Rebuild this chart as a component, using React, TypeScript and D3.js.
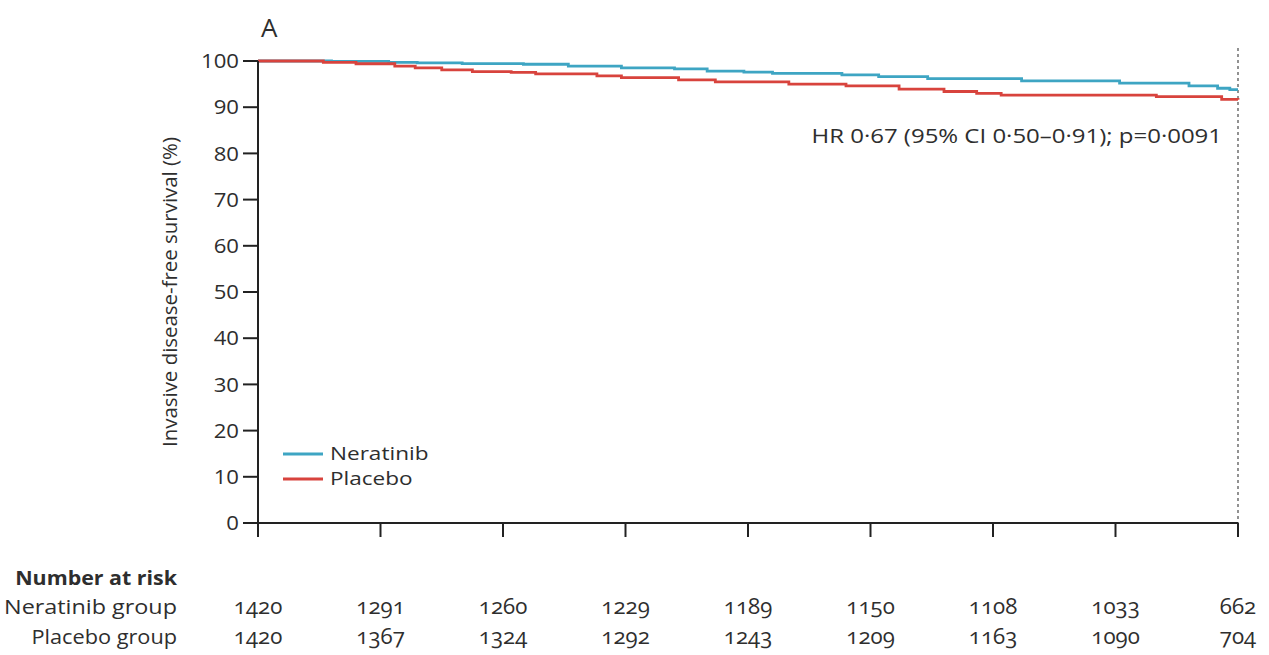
import React from "react";
import * as d3 from "d3";

// Kaplan-Meier step points: [month, survival %]
const neratinib: [number, number][] = [
  [0, 100], [1.8, 99.9], [3.2, 99.7], [3.9, 99.6], [5.0, 99.45], [6.5, 99.3],
  [7.6, 98.9], [8.9, 98.5], [10.2, 98.3], [11.0, 97.8], [11.9, 97.6], [12.6, 97.3],
  [14.3, 97.0], [15.2, 96.6], [16.4, 96.2], [18.7, 95.7], [21.1, 95.2],
  [22.8, 94.6], [23.5, 94.1], [23.8, 93.8], [24, 93.8],
];
const placebo: [number, number][] = [
  [0, 100], [1.6, 99.7], [2.4, 99.4], [3.35, 98.9], [3.85, 98.5], [4.5, 98.1],
  [5.25, 97.7], [6.2, 97.55], [6.8, 97.2], [8.3, 96.8], [8.9, 96.4], [10.3, 95.9],
  [11.2, 95.5], [13.0, 95.0], [14.4, 94.6], [15.7, 93.9], [16.8, 93.4],
  [17.6, 93.0], [18.2, 92.6], [22.0, 92.3], [23.6, 91.7], [24, 91.6],
];

const riskTimes = [0, 3, 6, 9, 12, 15, 18, 21, 24];
const riskNeratinib = [1420, 1291, 1260, 1229, 1189, 1150, 1108, 1033, 662];
const riskPlacebo = [1420, 1367, 1324, 1292, 1243, 1209, 1163, 1090, 704];
const riskRows = ["Neratinib group", "Placebo group"];
const yTicks = [0, 10, 20, 30, 40, 50, 60, 70, 80, 90, 100];

const seriesNames = ["Neratinib", "Placebo"];
const colors = ["#3ea5c3", "#d8433d"];
const hrText = "HR 0·67 (95% CI 0·50–0·91); p=0·0091";

const size = { width: 1269, height: 655 };
const plot = { left: 258, right: 1238, top: 61, bottom: 523 };

const font = "'Open Sans', sans-serif";
const ink = "#2e2e2e";

// the source figure is a little stretched sideways, so text is widened to match
function Txt(props: {
  x: number;
  y: number;
  size: number;
  anchor?: "start" | "middle" | "end";
  sx?: number;
  bold?: boolean;
  oldstyle?: boolean;
  children: React.ReactNode;
}) {
  const { x, y, size, anchor = "start", sx = 1.1, bold, oldstyle, children } = props;
  return (
    <text
      transform={`translate(${x},${y}) scale(${sx},1)`}
      dy="0.35em"
      textAnchor={anchor}
      fontSize={size}
      fontWeight={bold ? "bold" : "normal"}
      style={{
        fontFamily: font,
        fill: ink,
        fontVariantNumeric: oldstyle ? "oldstyle-nums" : "lining-nums",
      }}
    >
      {children}
    </text>
  );
}

export default function App() {
  const x = d3.scaleLinear().domain([0, 24]).range([plot.left, plot.right]);
  const y = d3.scaleLinear().domain([0, 100]).range([plot.bottom, plot.top]);

  const line = d3
    .line<[number, number]>()
    .x((d) => x(d[0]))
    .y((d) => y(d[1]))
    .curve(d3.curveStepAfter);

  return (
    <div>
      <style>{`body{margin:0}`}</style>
      <svg width={size.width} height={size.height} style={{ display: "block" }}>
        {/* panel letter */}
        <Txt x={plot.left + 3} y={28} size={26} sx={1}>
          A
        </Txt>

        {/* dotted line at end of follow-up */}
        <line
          x1={x(24)}
          x2={x(24)}
          y1={48}
          y2={plot.bottom}
          stroke="#777"
          strokeWidth={1.6}
          strokeDasharray="3,3"
        />

        {/* curves */}
        <path d={line(neratinib) || ""} fill="none" stroke={colors[0]} strokeWidth={2.8} />
        <path d={line(placebo) || ""} fill="none" stroke={colors[1]} strokeWidth={2.8} />

        {/* y axis */}
        <line x1={plot.left} x2={plot.left} y1={y(100)} y2={plot.bottom} stroke="#222" strokeWidth={2} />
        {yTicks.map((t) => (
          <g key={`yt${t}`}>
            <line x1={plot.left - 15} x2={plot.left} y1={y(t)} y2={y(t)} stroke="#222" strokeWidth={2} />
            <Txt x={plot.left - 19} y={y(t)} size={20.5} anchor="end" sx={1.08}>
              {t}
            </Txt>
          </g>
        ))}
        <text
          transform={`translate(170,${(y(100) + y(0)) / 2}) rotate(-90)`}
          textAnchor="middle"
          dy="0.35em"
          fontSize={20}
          textLength={310}
          lengthAdjust="spacingAndGlyphs"
          style={{ fontFamily: font, fill: ink }}
        >
          Invasive disease-free survival (%)
        </text>

        {/* x axis */}
        <line x1={plot.left - 1} x2={plot.right} y1={plot.bottom} y2={plot.bottom} stroke="#222" strokeWidth={2} />
        {riskTimes.map((t) => (
          <line
            key={`xt${t}`}
            x1={x(t)}
            x2={x(t)}
            y1={plot.bottom}
            y2={plot.bottom + 14}
            stroke="#222"
            strokeWidth={2}
          />
        ))}

        {/* legend */}
        {seriesNames.map((name, i) => (
          <g key={name}>
            <line x1={283} x2={323} y1={454 + i * 25} y2={454 + i * 25} stroke={colors[i]} strokeWidth={2.8} />
            <Txt x={330} y={454 + i * 25} size={18.5} sx={1.22}>
              {name}
            </Txt>
          </g>
        ))}

        {/* hazard ratio */}
        <Txt x={1222} y={136} size={20.5} anchor="end" sx={1.17}>
          {hrText}
        </Txt>

        {/* number at risk */}
        <Txt x={177} y={578} size={20} anchor="end" bold sx={1.07}>
          Number at risk
        </Txt>
        {riskRows.map((row, r) => (
          <Txt key={row} x={177} y={607 + r * 30} size={20.5} anchor="end" sx={r === 0 ? 1.14 : 1.06}>
            {row}
          </Txt>
        ))}
        {riskTimes.map((t, i) => (
          <g key={`r${t}`}>
            <Txt x={x(t)} y={607} size={21} anchor="middle" sx={1.06} oldstyle>
              {riskNeratinib[i]}
            </Txt>
            <Txt x={x(t)} y={637} size={21} anchor="middle" sx={1.06} oldstyle>
              {riskPlacebo[i]}
            </Txt>
          </g>
        ))}
      </svg>
    </div>
  );
}
